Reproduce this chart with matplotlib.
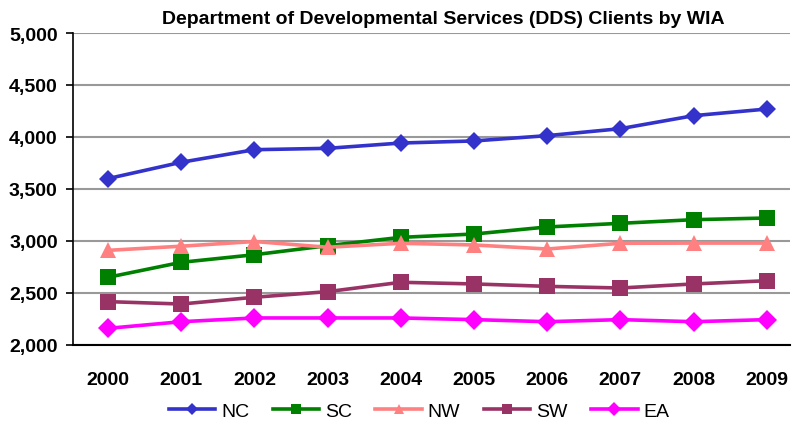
import matplotlib.pyplot as plt
import numpy as np

plt.rcParams['font.family'] = ['Liberation Sans', 'DejaVu Sans']

years = ['2000', '2001', '2002', '2003', '2004', '2005', '2006', '2007', '2008', '2009']
nc = [3600, 3757, 3878, 3891, 3942, 3962, 4013, 4080, 4205, 4269]
sc = [2651, 2795, 2868, 2955, 3035, 3067, 3135, 3170, 3205, 3221]
nw = [2910, 2950, 2995, 2940, 2978, 2962, 2923, 2978, 2980, 2980]
sw = [2417, 2394, 2459, 2513, 2603, 2587, 2564, 2548, 2587, 2618]
ea = [2160, 2224, 2260, 2260, 2260, 2244, 2224, 2244, 2224, 2244]

series = [
    ('NC', nc, '#3333CC', 'D', 9),
    ('SC', sc, '#008000', 's', 11),
    ('NW', nw, '#FF8080', '^', 11),
    ('SW', sw, '#993366', 's', 11),
    ('EA', ea, '#FF00FF', 'D', 10),
]

fig = plt.figure(figsize=(7.93, 4.27), dpi=100)
ax = fig.add_axes([73 / 793, 1 - 346 / 427, (790 - 73) / 793, (346 - 34) / 427])

x = np.arange(len(years))
for name, vals, color, marker, ms in series:
    ax.plot(x, vals, color=color, lw=2.6, marker=marker, markersize=ms,
            markeredgewidth=0, label=name, zorder=3)

ax.set_ylim(2000, 5000)
ax.set_xlim(-0.478, 9.317)
ax.set_yticks(np.arange(2000, 5001, 500))
ax.set_yticklabels(['{:,}'.format(v) for v in range(2000, 5001, 500)],
                   fontsize=14, fontweight='bold')
ax.set_xticks(x)
ax.set_xticklabels(years, fontsize=14, fontweight='bold')
ax.tick_params(axis='x', length=0, pad=19)
ax.tick_params(axis='y', length=5, width=1.2, direction='out', pad=6)

ax.grid(axis='y', color='#999999', lw=1.5, zorder=0)
for s in ['top', 'right']:
    ax.spines[s].set_visible(False)
ax.spines['left'].set_linewidth(1.2)
ax.spines['bottom'].set_linewidth(1.5)
ax.spines['bottom'].set_zorder(4)

fig.text(443 / 793, 1 - 20 / 427,
         'Department of Developmental Services (DDS) Clients by WIA',
         fontsize=14, fontweight='bold', ha='center', va='center')

leg = fig.legend(loc='center', bbox_to_anchor=(419 / 793, 1 - 412 / 427), ncol=5,
                 frameon=False, fontsize=14, handlelength=2.4, columnspacing=1.2,
                 handletextpad=0.3, markerscale=0.7)

fig.savefig('out.png', dpi=100)
